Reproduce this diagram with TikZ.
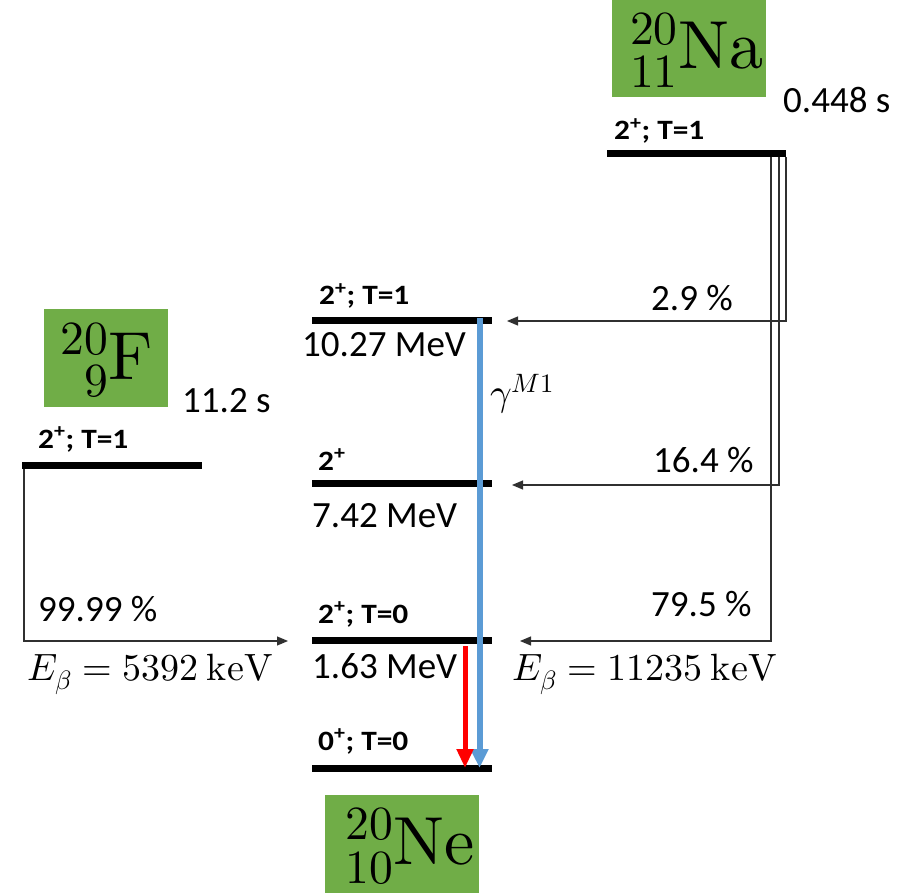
\documentclass[tikz,border=0pt]{standalone}
\usepackage{fontspec}
\usepackage{unicode-math}
\setmainfont{Carlito}
\setmathfont{Latin Modern Math}
\usetikzlibrary{arrows.meta}
\definecolor{nucgreen}{HTML}{70AD47}
\definecolor{gblue}{HTML}{5B9BD5}
\definecolor{conn}{HTML}{303030}
\newcommand{\blabtext}[1]{\scalebox{1.12}[1]{#1}}
\begin{document}
\begin{tikzpicture}[x=1pt,y=-1pt,
  lvl/.style={line width=7pt},
  lab/.style={inner sep=0pt,anchor=base west,font=\fontsize{37}{40}\selectfont},
  blab/.style={inner sep=0pt,anchor=base west,font=\fontsize{28}{30}\selectfont\bfseries},
  mlab/.style={inner sep=0pt,anchor=base west,font=\fontsize{38}{40}\selectfont},
  nucbox/.style={fill=nucgreen,inner sep=0pt},
  nuclab/.style={inner sep=0pt,font=\fontsize{68}{72}\selectfont},
  feed/.style={draw=conn,line width=1.2pt,-{Triangle[length=11pt,width=9pt]}}]
\useasboundingbox (0,0) rectangle (919,893);
% nuclide boxes
\node[nucbox,minimum width=154pt,minimum height=97pt] (na) at (689,48.5) {};
\node[nucbox,minimum width=124pt,minimum height=98pt] (f) at (106,358) {};
\node[nucbox,minimum width=154pt,minimum height=98pt] (ne) at (402,844) {};
\node[nuclab] (na-t) at (697,50) {${}^{20}_{11}\symup{Na}$};
\node[nuclab] (f-t) at (107,360) {${}^{20}_{\phantom{0}9}\symup{F}$};
\node[nuclab] (ne-t) at (410,846) {${}^{20}_{10}\symup{Ne}$};
% half lives
\node[lab] (tna) at (783,113) {0.448 s};
\node[lab] (tf) at (182,413) {11.2 s};
% levels
\coordinate (naL) at (607,154); \coordinate (naR) at (786,154);
\coordinate (fL) at (22,465.5); \coordinate (fR) at (202,465.5);
\coordinate (l3L) at (312,321); \coordinate (l3R) at (492,321);
\coordinate (l2L) at (312,483); \coordinate (l2R) at (492,483);
\coordinate (l1L) at (312,640); \coordinate (l1R) at (492,640);
\coordinate (l0L) at (312,768); \coordinate (l0R) at (492,768);
\draw[lvl] (naL) -- (naR);
\draw[lvl] (fL) -- (fR);
\draw[lvl] (l3L) -- (l3R);
\draw[lvl] (l2L) -- (l2R);
\draw[lvl] (l1L) -- (l1R);
\draw[lvl] (l0L) -- (l0R);
% level labels
\node[blab] (na-j) at (614,140) {\blabtext{2\textsuperscript{+}; T=1}};
\node[blab] (f-j) at (38,448) {\blabtext{2\textsuperscript{+}; T=1}};
\node[blab] (l3-j) at (319,305) {\blabtext{2\textsuperscript{+}; T=1}};
\node[blab] (l2-j) at (318,470) {\blabtext{2\textsuperscript{+}}};
\node[blab] (l1-j) at (318,623) {\blabtext{2\textsuperscript{+}; T=0}};
\node[blab] (l0-j) at (318,750) {\blabtext{0\textsuperscript{+}; T=0}};
\node[lab] (l3-e) at (302,357) {10.27 MeV};
\node[lab] (l2-e) at (312,527) {7.42 MeV};
\node[lab] (l1-e) at (312,678) {1.63 MeV};
% feeding from Na
\coordinate (na1) at (786,157); \coordinate (na2) at (779,157); \coordinate (na3) at (771,157);
\coordinate (t3) at (507,321); \coordinate (t2) at (512,485); \coordinate (t1) at (520,641);
\draw[feed] (na1) |- (t3);
\draw[feed] (na2) |- (t2);
\draw[feed] (na3) |- (t1);
\node[lab] (p3) at (651,311) {2.9 \%};
\node[lab] (p2) at (653,472) {16.4 \%};
\node[lab] (p1) at (651,616) {79.5 \%};
\node[mlab] (ena) at (512,680) {$E_\beta = 11235\ \symup{keV}$};
% feeding from F
\coordinate (f1) at (24,469); \coordinate (tf1) at (288,641);
\draw[feed] (f1) |- (tf1);
\node[lab] (pf) at (38,621) {99.99 \%};
\node[mlab] (ef) at (27,680) {$E_\beta = 5392\ \symup{keV}$};
% gamma transitions
\coordinate (bTop) at (479.5,318); \coordinate (bBot) at (479.5,768);
\coordinate (rTop) at (465,646); \coordinate (rBot) at (465,768);
\draw[gblue,line width=6pt,-{Triangle[length=19pt,width=17pt]}] (bTop) -- (bBot);
\draw[red,line width=5pt,-{Triangle[length=19pt,width=16pt]}] (rTop) -- (rBot);
\node[mlab] (gam) at (490,406) {$\gamma^{M1}$};
\end{tikzpicture}
\end{document}
